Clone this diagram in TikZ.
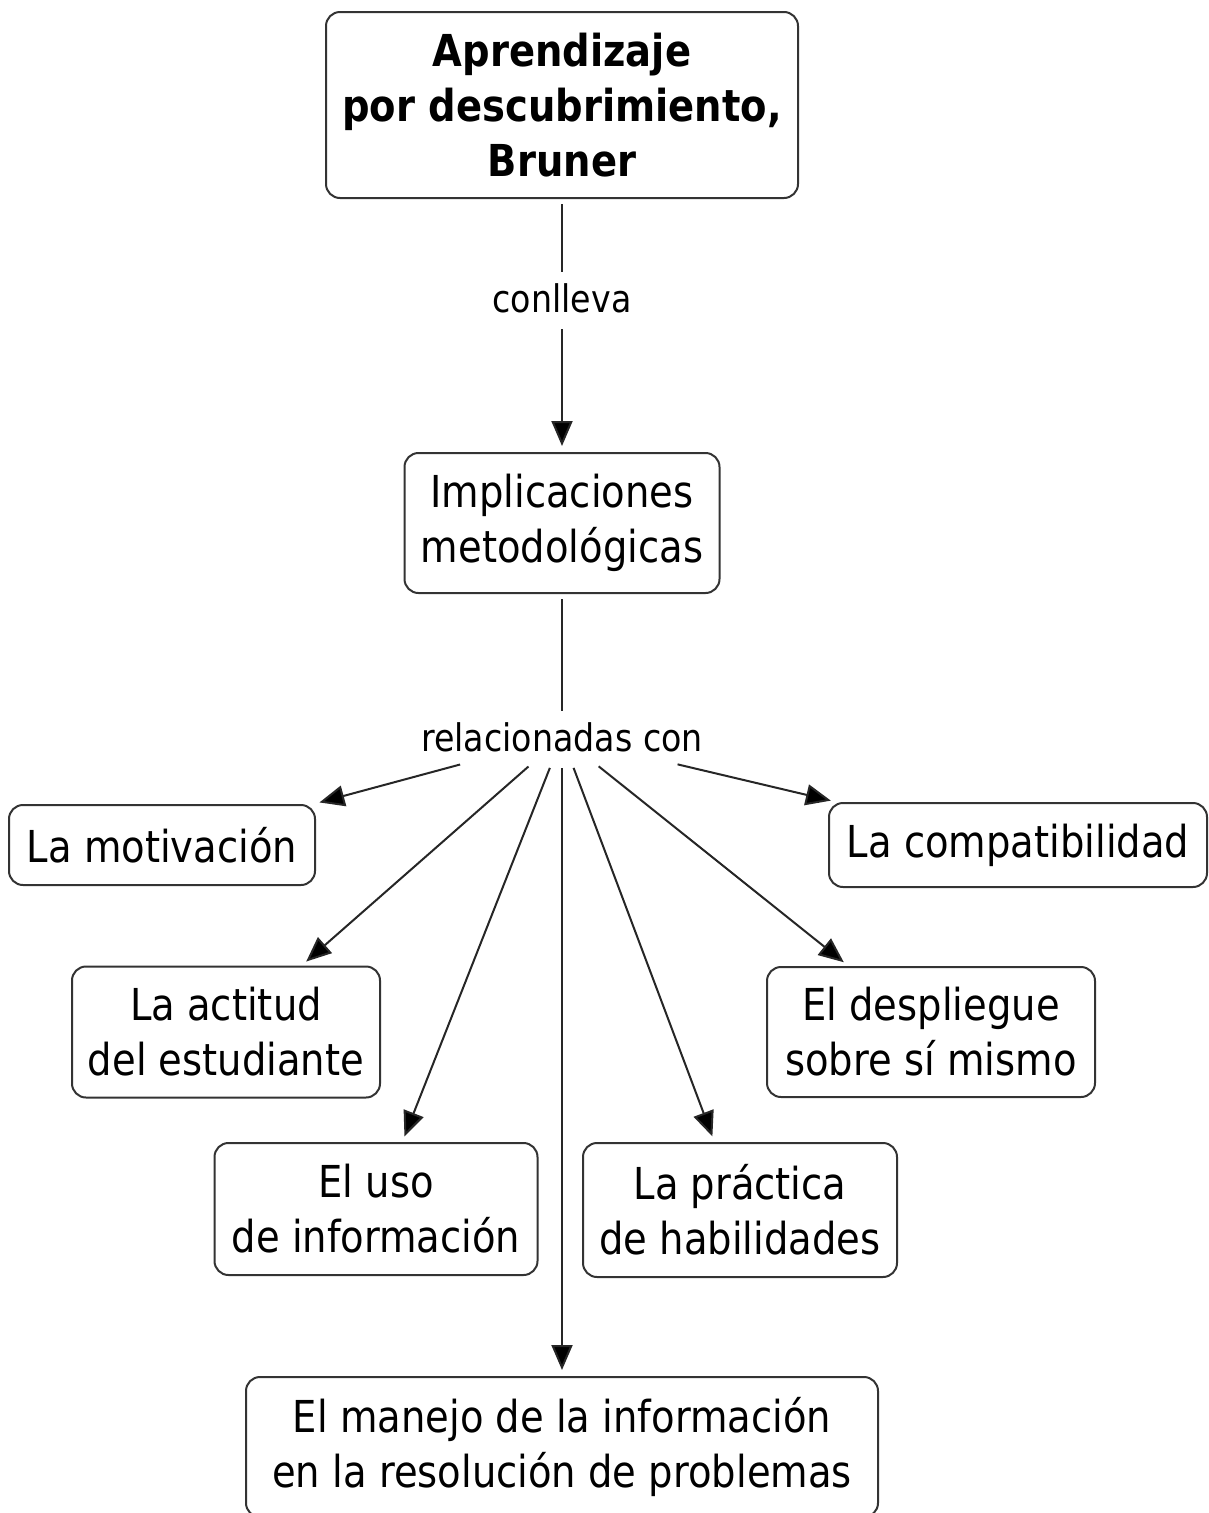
\documentclass[tikz,border=0pt]{standalone}
\usepackage{fontspec}
\setmainfont{DejaVu Sans}[FakeStretch=0.875]
\usetikzlibrary{arrows.meta}

\tikzset{
  concept/.style={draw=black!80, line width=2pt, rounded corners=14pt, align=center,
    inner sep=0pt, font=\fontsize{44}{55}\selectfont},
  linkword/.style={inner xsep=3pt, inner ysep=0pt, minimum height=52pt,
    font=\fontsize{38}{46}\selectfont},
  link/.style={draw=black!85, line width=2pt, shorten <=5pt},
  linkarrow/.style={link, -{Stealth[inset=0pt,length=25pt,width=21pt,fill=black]}, shorten >=6pt},
}

\begin{document}
\begin{tikzpicture}[x=1pt,y=-1pt]
\useasboundingbox (0,0) rectangle (1209,1513);

\node [concept, minimum width=472pt, minimum height=186pt,
  font=\fontsize{44}{55}\selectfont\bfseries] (bruner) at (562,105)
  {Aprendizaje\\por descubrimiento,\\Bruner};
\node [linkword] (conlleva) at (562,298) {conlleva};
\node [concept, minimum width=315pt, minimum height=140pt] (implic) at (562,523)
  {Implicaciones\\metodológicas};
\node [linkword] (relac) at (562,737) {relacionadas con};

\node [concept, minimum width=306pt, minimum height=80pt] (motiv) at (162,845) {La motivación};
\node [concept, minimum width=378pt, minimum height=84pt] (compat) at (1018,845) {La compatibilidad};
\node [concept, minimum width=308pt, minimum height=131pt] (actitud) at (226,1032) {La actitud\\del estudiante};
\node [concept, minimum width=328pt, minimum height=130pt] (despl) at (931,1032) {El despliegue\\sobre sí mismo};
\node [concept, minimum width=323pt, minimum height=132pt] (usoinf) at (376,1209) {El uso\\de información};
\node [concept, minimum width=314pt, minimum height=134pt] (practica) at (740,1210) {La práctica\\de habilidades};
\node [concept, minimum width=632pt, minimum height=140pt] (manejo) at (562,1447)
  {El manejo de la información\\en la resolución de problemas};

\draw [link] (bruner) -- (conlleva);
\draw [linkarrow] (conlleva) -- (implic);
\draw [link] (implic) -- (relac);

\draw [linkarrow] (relac) -- (motiv);
\draw [linkarrow] (relac) -- (actitud);
\draw [linkarrow] (relac) -- (usoinf);
\draw [linkarrow] (relac) -- (manejo);
\draw [linkarrow] (relac) -- (practica);
\draw [linkarrow] (relac) -- (despl);
\draw [linkarrow] (relac) -- (compat);

\end{tikzpicture}
\end{document}
